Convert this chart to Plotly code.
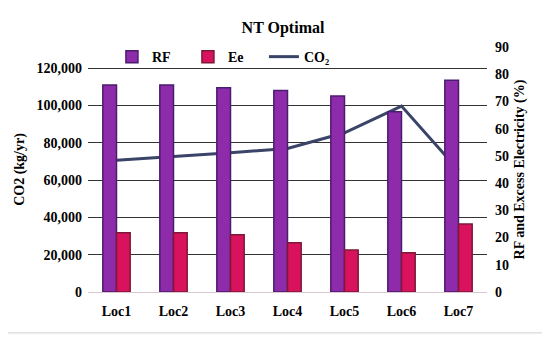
import plotly.graph_objects as go

categories = ["Loc1", "Loc2", "Loc3", "Loc4", "Loc5", "Loc6", "Loc7"]
rf = [76.0, 76.0, 75.0, 74.0, 72.0, 66.2, 77.8]
ee = [21.8, 21.8, 21.0, 18.1, 15.4, 14.4, 25.0]
co2 = [70600, 72400, 74600, 76900, 85300, 99600, 65200]

FONT = "Liberation Serif"

fig = go.Figure()
fig.add_trace(go.Bar(
    x=categories, y=rf, name="<b>RF</b>", yaxis="y2",
    marker=dict(color="#8E2BAA", line=dict(color="#4A1C6E", width=1.5)),
))
fig.add_trace(go.Bar(
    x=categories, y=ee, name="<b>Ee</b>", yaxis="y2",
    marker=dict(color="#D8125C", line=dict(color="#7E1838", width=1.5)),
))
fig.add_trace(go.Scatter(
    x=categories, y=co2, name="<b>CO₂</b>", mode="lines",
    line=dict(color="#3A4468", width=3),
))

fig.update_layout(
    width=550, height=338,
    margin=dict(l=80, r=71, t=39, b=54),
    paper_bgcolor="white", plot_bgcolor="white",
    font=dict(family=FONT, size=14, color="black"),
    title=dict(text="<b>NT Optimal</b>", x=0.5, xanchor="center", y=0.944, yanchor="middle",
               font=dict(family=FONT, size=16, color="black")),
    barmode="group", bargap=0.52, bargroupgap=0.0,
    showlegend=True,
    legend=dict(orientation="h", x=0.06, xanchor="left", y=0.959, yanchor="middle",
                font=dict(family=FONT, size=14), bgcolor="rgba(0,0,0,0)",
                itemwidth=30, tracegroupgap=0, entrywidth=31, entrywidthmode="pixels"),
    xaxis=dict(showgrid=False, showline=True, linecolor="#d9c8d0", linewidth=1,
               tickfont=dict(family=FONT, size=14), ticks="", ticklabelstandoff=6,
               tickprefix="<b>", ticksuffix="</b>"),
    yaxis=dict(range=[0, 131250], tickvals=[0, 20000, 40000, 60000, 80000, 100000, 120000],
               ticktext=["<b>0</b>", "<b>20,000</b>", "<b>40,000</b>", "<b>60,000</b>",
                         "<b>80,000</b>", "<b>100,000</b>", "<b>120,000</b>"],
               showgrid=True, gridcolor="#333333", gridwidth=1, zeroline=False,
               ticklabelstandoff=5,
               title=dict(text="<b>CO2 (kg/yr)</b>", font=dict(family=FONT, size=14), standoff=8),
               tickfont=dict(family=FONT, size=14)),
    yaxis2=dict(range=[0, 90], dtick=10, overlaying="y", side="right", showgrid=False,
                zeroline=False, tickprefix="<b>", ticksuffix="</b>", ticklabelstandoff=7,
                title=dict(text="<b>RF and Excess Electricity (%)</b>", font=dict(family=FONT, size=14), standoff=6),
                tickfont=dict(family=FONT, size=14)),
    shapes=[dict(type="rect", xref="paper", yref="paper", x0=-0.213, x1=1.145, y0=-0.167, y1=1.18,
                 line=dict(color="#d0d0d0", width=1), layer="below")],
)

fig.write_html("out.html")
